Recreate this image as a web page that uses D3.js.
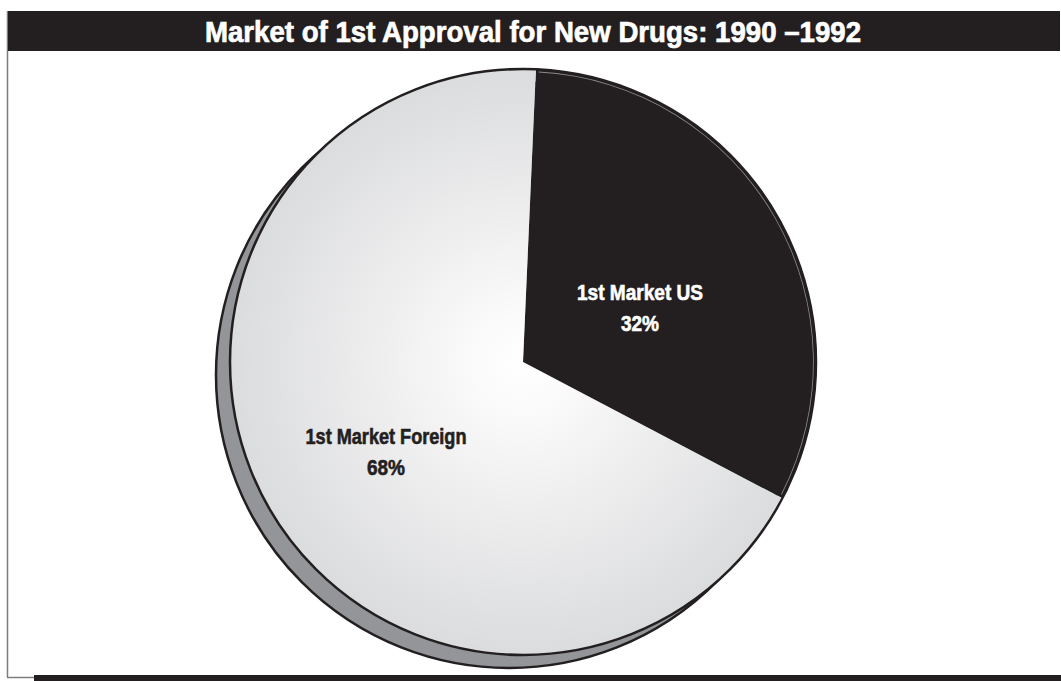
<!DOCTYPE html>
<html>
<head>
<meta charset="utf-8">
<script src="https://cdn.jsdelivr.net/npm/d3@7"></script>
<style>
  body { margin: 0; background: #fff; }
  text { font-family: "Liberation Sans Narrow", "Arial Narrow", "Liberation Sans", Arial, sans-serif; font-weight: bold; }
</style>
</head>
<body>
<svg id="chart" width="1061" height="681"></svg>
<script>
const title = "Market of 1st Approval for New Drugs: 1990 \u20131992";
const categories = ["1st Market US", "1st Market Foreign"];
const values = [32, 68];
const pctLabels = ["32%", "68%"];

var svg = d3.select("#chart");
var width = +svg.attr("width");
var height = +svg.attr("height");

var cx = 523, cy = 362, r = 293;

// gradient for the light slice (user space of the translated group)
var defs = svg.append("defs");
var grad = defs.append("radialGradient")
    .attr("id", "lightGrad")
    .attr("gradientUnits", "userSpaceOnUse")
    .attr("cx", 0).attr("cy", 0).attr("r", r);
grad.append("stop").attr("offset", "0").attr("stop-color", "#ffffff");
grad.append("stop").attr("offset", "0.15").attr("stop-color", "#fbfbfb");
grad.append("stop").attr("offset", "0.55").attr("stop-color", "#ececed");
grad.append("stop").attr("offset", "1").attr("stop-color", "#dbdcde");

// frame: left and bottom rules
svg.append("line")
    .attr("x1", 7.5).attr("y1", 11).attr("x2", 7.5).attr("y2", 677.5)
    .attr("stroke", "#7d7d7d").attr("stroke-width", 1.5);
svg.append("line")
    .attr("x1", 7).attr("y1", 677.5).attr("x2", 36).attr("y2", 677.5)
    .attr("stroke", "#7d7d7d").attr("stroke-width", 1.5);
svg.append("rect")
    .attr("x", 34).attr("y", 675).attr("width", width - 34).attr("height", 6)
    .attr("fill", "#231f20");

// title bar
svg.append("rect")
    .attr("x", 8).attr("y", 11).attr("width", 1052).attr("height", 40)
    .attr("fill", "#231f20");
svg.append("text")
    .attr("x", 533).attr("y", 42)
    .attr("text-anchor", "middle")
    .attr("fill", "#fff")
    .attr("stroke", "#fff").attr("stroke-width", 0.7)
    .style("font-size", "29px")
    .attr("textLength", 656)
    .attr("lengthAdjust", "spacingAndGlyphs")
    .text(title);

var g = svg.append("g").attr("transform", "translate(" + cx + "," + cy + ")");

// drop shadow
g.append("circle")
    .attr("cx", -14).attr("cy", 13).attr("r", r)
    .attr("fill", "#939598")
    .attr("stroke", "#231f20").attr("stroke-width", 2.5);

var pie = d3.pie()
    .sort(null)
    .startAngle(0.044)
    .endAngle(0.044 + 2 * Math.PI);

var arcs = pie(values);
var arc = d3.arc().innerRadius(0).outerRadius(r);

var fills = ["#231f20", "url(#lightGrad)"];

g.selectAll("path.slice")
    .data(arcs)
    .enter().append("path")
    .attr("class", "slice")
    .attr("d", arc)
    .attr("fill", function(d, i) { return fills[i]; })
    .attr("stroke", "none");

// outline
g.append("circle")
    .attr("r", r)
    .attr("fill", "none")
    .attr("stroke", "#231f20").attr("stroke-width", 2.5);

// thin highlight inside the dark slice
var hl = d3.arc().innerRadius(r - 3).outerRadius(r - 2.2);
g.append("path")
    .attr("d", hl({ startAngle: arcs[0].startAngle + 0.01, endAngle: arcs[0].endAngle - 0.01 }))
    .attr("fill", "#8a8a8c");

// labels
var labelPos = [[117, -62], [-137, 82]];
var labelW = [126, 161];
var lbl = g.selectAll("g.lbl")
    .data(arcs)
    .enter().append("g")
    .attr("class", "lbl")
    .attr("transform", function(d, i) { return "translate(" + labelPos[i][0] + "," + labelPos[i][1] + ")"; });

function col(d, i) { return i == 0 ? "#fff" : "#231f20"; }

lbl.append("text")
    .attr("text-anchor", "middle")
    .attr("fill", col).attr("stroke", col).attr("stroke-width", 0.6)
    .style("font-size", "22px")
    .attr("textLength", function(d, i) { return labelW[i]; })
    .attr("lengthAdjust", "spacingAndGlyphs")
    .text(function(d, i) { return categories[i]; });

lbl.append("text")
    .attr("text-anchor", "middle")
    .attr("y", 31)
    .attr("fill", col).attr("stroke", col).attr("stroke-width", 0.6)
    .style("font-size", "22px")
    .attr("textLength", 38)
    .attr("lengthAdjust", "spacingAndGlyphs")
    .text(function(d, i) { return pctLabels[i]; });
</script>
</body>
</html>
